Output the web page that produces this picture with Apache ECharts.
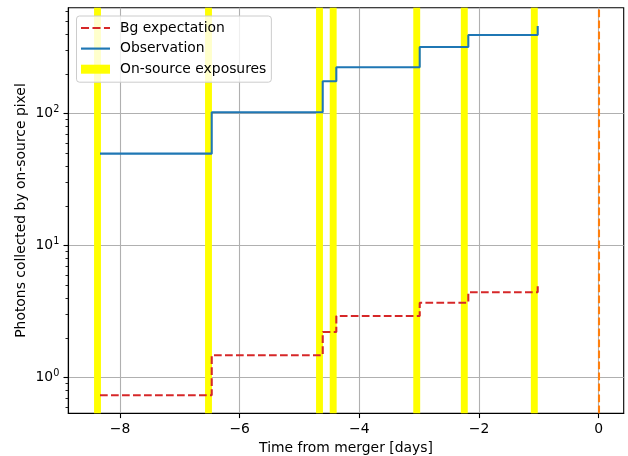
<!DOCTYPE html>
<html>
<head>
<meta charset="utf-8">
<script src="https://cdn.jsdelivr.net/npm/echarts@6/dist/echarts.min.js"></script>
<style>html,body{margin:0;padding:0;background:#fff;}#c{width:628px;height:456px;}</style>
</head>
<body>
<div id="c"></div>
<script>
// ---- data ----
const xTickValues = [-8, -6, -4, -2, 0];
const yMajorTickValues = [1, 10, 100];
const yMinorTickValues = [0.6, 0.7, 0.8, 0.9, 2, 3, 4, 5, 6, 7, 8, 9, 20, 30, 40, 50, 60, 70, 80, 90, 200, 300, 400, 500, 600];
const exposureTimes = [-8.376, -6.521, -4.666, -4.437, -3.041, -2.246, -1.076];
const stepTimes = [-8.334, -6.467, -4.612, -4.385, -2.991, -2.179, -1.019];
const observation = [49.8, 102.5, 176, 225, 320, 395, 462];
const bgExpectation = [0.736, 1.479, 2.22, 2.93, 3.70, 4.44, 5.13];
const mergerTime = 0;
const seriesNames = ['Bg expectation', 'Observation', 'On-source exposures'];
const xAxisTitle = 'Time from merger [days]';
const yAxisTitle = 'Photons collected by on-source pixel';

const X_MIN = -8.864, X_MAX = 0.418, Y_MIN = 0.5374, Y_MAX = 635;
const FONT = 'DejaVu Sans';
const FS = 13.9;
const LW = 2.08;

const chart = echarts.init(document.getElementById('c'), null, {renderer: 'canvas'});

const option = {
  animation: false,
  backgroundColor: '#ffffff',
  textStyle: {fontFamily: FONT},
  grid: {left: 68.3, top: 7.7, right: 4.3, bottom: 42.7, show: true, borderColor: '#000', borderWidth: 1.1,
    backgroundColor: 'transparent', containLabel: false, outerBoundsMode: 'none'},
  legend: {
    orient: 'vertical',
    left: 76.5, top: 16,
    padding: [4, 5, 5, 4.5],
    itemWidth: 29, itemHeight: 9, itemGap: 4.6,
    backgroundColor: 'rgba(255,255,255,0.8)',
    borderColor: '#cccccc', borderWidth: 1, borderRadius: 3,
    textStyle: {fontFamily: FONT, fontSize: FS, color: '#000', lineHeight: 16, padding: [0, 0, 0, 5]},
    data: [
      {name: seriesNames[0], icon: 'path://M0,0h7.7v2.08h-7.7z M11,0h7.7v2.08h-7.7z M22,0h5.8v2.08h-5.8z'},
      {name: seriesNames[1], icon: 'path://M0,0h27.8v2.08h-27.8z'},
      {name: seriesNames[2], icon: 'rect'}
    ],
    selectedMode: false,
    z: 20
  },
  xAxis: {
    type: 'value', min: X_MIN, max: X_MAX,
    name: xAxisTitle, nameLocation: 'middle', nameGap: 28, nameMoveOverlap: false,
    nameTextStyle: {fontFamily: FONT, fontSize: FS, color: '#000'},
    axisLine: {show: true, onZero: false, lineStyle: {color: '#000', width: 1.1}},
    axisTick: {show: true, length: 4.8, lineStyle: {color: '#000', width: 1.1}, customValues: xTickValues},
    axisLabel: {show: true, margin: 9.5, fontFamily: FONT, fontSize: FS, color: '#000', customValues: xTickValues,
      formatter: v => String(v).replace('-', '\u2212')},
    splitLine: {show: true, lineStyle: {color: '#b0b0b0', width: 1.1}}
  },
  yAxis: [
    {
      type: 'log', logBase: 10, min: Y_MIN, max: Y_MAX,
      name: yAxisTitle, nameLocation: 'middle', nameGap: 40, nameMoveOverlap: false,
      nameTextStyle: {fontFamily: FONT, fontSize: FS, color: '#000'},
      axisLine: {show: true, onZero: false, lineStyle: {color: '#000', width: 1.1}},
      axisTick: {show: true, length: 4.8, lineStyle: {color: '#000', width: 1.1}, customValues: yMajorTickValues},
      axisLabel: {show: true, margin: 9, customValues: yMajorTickValues,
        formatter: v => '{b|10}{s|' + Math.round(Math.log10(v)) + '}',
        rich: {
          b: {fontFamily: FONT, fontSize: FS, color: '#000'},
          s: {fontFamily: FONT, fontSize: 9.7, color: '#000', padding: [0, 0, 8, 0]}
        }
      },
      splitLine: {show: true, lineStyle: {color: '#b0b0b0', width: 1.1}},
      minorTick: {show: false}
    },
    {
      type: 'log', logBase: 10, min: Y_MIN, max: Y_MAX, position: 'left', offset: 0,
      axisLine: {show: false, onZero: false},
      axisTick: {show: true, length: 2.8, lineStyle: {color: '#000', width: 0.85}, customValues: yMinorTickValues},
      axisLabel: {show: false},
      splitLine: {show: false}
    }
  ],
  series: [
    {
      name: seriesNames[2],
      type: 'custom',
      z: 2,
      itemStyle: {color: '#ffff00'},
      data: exposureTimes.map(t => [t, 1]),
      encode: {x: 0, y: 1},
      renderItem: (params, api) => {
        const cs = params.coordSys;
        const x = api.coord([api.value(0), 1])[0];
        return {type: 'rect', shape: {x: x - 3.45, y: cs.y, width: 6.9, height: cs.height}, style: {fill: '#ffff00'}};
      }
    },
    {
      name: seriesNames[0],
      type: 'line', step: 'end', symbol: 'none', z: 5,
      color: '#d62728',
      lineStyle: {color: '#d62728', width: LW, type: [7.7, 3.3]},
      data: stepTimes.map((t, i) => [t, bgExpectation[i]])
    },
    {
      name: seriesNames[1],
      type: 'line', step: 'end', symbol: 'none', z: 5,
      color: '#1f77b4',
      lineStyle: {color: '#1f77b4', width: LW},
      data: stepTimes.map((t, i) => [t, observation[i]]),
      markLine: {
        silent: true, symbol: ['none', 'none'], label: {show: false},
        lineStyle: {color: '#ff7f0e', width: LW, type: [7.7, 3.3]},
        emphasis: {disabled: true},
        data: [{xAxis: mergerTime}]
      }
    }
  ]
};
chart.setOption(option);
</script>
</body>
</html>
